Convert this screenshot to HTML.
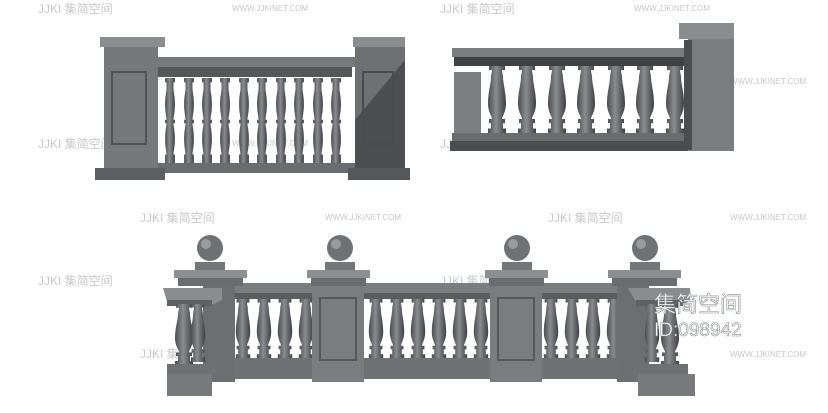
<!DOCTYPE html>
<html><head><meta charset="utf-8"><style>
html,body{margin:0;padding:0;background:#fff;width:828px;height:413px;overflow:hidden}
svg{display:block}
.wm{font-family:"Liberation Sans","Noto Sans CJK SC",sans-serif;fill:#c8c8c8}
</style></head><body>
<svg width="828" height="413" viewBox="0 0 828 413" xmlns="http://www.w3.org/2000/svg">
<defs>
<linearGradient id="bal" x1="0" x2="1" y1="0" y2="0">
<stop offset="0" stop-color="#4a4c4f"/><stop offset="0.45" stop-color="#8a8c8f"/><stop offset="1" stop-color="#3e4043"/>
</linearGradient>
<symbol id="b" viewBox="0 0 20 100" preserveAspectRatio="none">
<path d="M2 0H18V6H15C15 10 16 12 16 16C16 26 19 38 19 55C19 68 15 74 15 78H18V84H16V92H19V100H1V92H4V84H2V78H5C5 74 1 68 1 55C1 38 4 26 4 16C4 12 5 10 5 6H2Z" fill="url(#bal)"/>
</symbol>
<symbol id="b2" viewBox="0 0 20 100" preserveAspectRatio="none">
<path d="M3 0H17V5H15V12C15 16 17 20 17 30C17 40 15 44 15 48H17V52H15C15 56 17 60 17 70C17 80 15 84 15 88H17V100H3V88H5C5 84 3 80 3 70C3 60 5 56 5 52H3V48H5C5 44 3 40 3 30C3 20 5 16 5 12V5H3Z" fill="url(#bal)"/>
</symbol>
</defs>
<!-- watermarks -->
<g class="wm" font-size="12">
<text x="38" y="13">JJKI 集简空间</text><text x="232" y="11" font-size="8">WWW.JJKINET.COM</text>
<text x="440" y="13">JJKI 集简空间</text><text x="634" y="11" font-size="8">WWW.JJKINET.COM</text>
<text x="38" y="148">JJKI 集简空间</text><text x="232" y="146" font-size="8">WWW.JJKINET.COM</text>
<text x="440" y="148">JJKI 集简空间</text><text x="730" y="84" font-size="8">WWW.JJKINET.COM</text>
<text x="140" y="222">JJKI 集简空间</text><text x="325" y="220" font-size="8">WWW.JJKINET.COM</text>
<text x="548" y="222">JJKI 集简空间</text><text x="730" y="220" font-size="8">WWW.JJKINET.COM</text>
<text x="38" y="285">JJKI 集简空间</text><text x="440" y="285">JJKI 集简空间</text>
<text x="140" y="358">JJKI 集简空间</text><text x="730" y="357" font-size="8">WWW.JJKINET.COM</text>
</g>
<!-- TOP LEFT -->
<g>
<rect x="155" y="57" width="200" height="10" fill="#77797c"/>
<rect x="158" y="67" width="194" height="10" fill="#555759"/>
<g>
<use href="#b2" x="163" y="78" width="14" height="87"/><use href="#b2" x="182" y="78" width="14" height="87"/>
<use href="#b2" x="200" y="78" width="14" height="87"/><use href="#b2" x="218" y="78" width="14" height="87"/>
<use href="#b2" x="237" y="78" width="14" height="87"/><use href="#b2" x="255" y="78" width="14" height="87"/>
<use href="#b2" x="274" y="78" width="14" height="87"/><use href="#b2" x="292" y="78" width="14" height="87"/>
<use href="#b2" x="311" y="78" width="14" height="87"/><use href="#b2" x="329" y="78" width="14" height="87"/>
</g>
<rect x="155" y="163" width="200" height="10" fill="#6a6c6f"/>
<rect x="100" y="37" width="65" height="10" fill="#8a8c8e"/>
<rect x="104" y="47" width="54" height="122" fill="#76787b"/>
<rect x="112" y="72" width="34" height="72" fill="none" stroke="#505254" stroke-width="2"/>
<rect x="95" y="168" width="70" height="12" fill="#5c5e61"/>
<rect x="353" y="37" width="52" height="10" fill="#8a8c8e"/>
<rect x="355" y="47" width="50" height="122" fill="#6e7073"/>
<path d="M355 120L405 60V169H355Z" fill="#4c4e51"/>
<rect x="363" y="72" width="30" height="72" fill="none" stroke="#4a4c4e" stroke-width="2"/>
<rect x="348" y="168" width="62" height="12" fill="#55575a"/>
</g>
<!-- TOP RIGHT -->
<g>
<rect x="452" y="48" width="238" height="9" fill="#7a7c7f"/>
<rect x="454" y="57" width="236" height="9" fill="#3f4144"/>
<g>
<use href="#b" x="487" y="66" width="20" height="68"/><use href="#b" x="517" y="66" width="20" height="68"/>
<use href="#b" x="547" y="66" width="20" height="68"/><use href="#b" x="576" y="66" width="20" height="68"/>
<use href="#b" x="606" y="66" width="20" height="68"/><use href="#b" x="635" y="66" width="20" height="68"/>
<use href="#b" x="665" y="66" width="20" height="68"/>
</g>
<rect x="454" y="72" width="27" height="62" fill="#7c7e81"/>
<rect x="452" y="133" width="240" height="8" fill="#6a6c6f"/>
<rect x="450" y="141" width="242" height="10" fill="#4a4c4f"/>
<rect x="679" y="23" width="55" height="16" fill="#8a8c8e"/>
<rect x="688" y="39" width="46" height="112" fill="#7a7c7f"/>
<rect x="684" y="40" width="8" height="110" fill="#4a4c4f"/>
</g>
<!-- BOTTOM -->
<g>
<!-- rails -->
<rect x="225" y="283" width="400" height="14" fill="#7b7d80"/>
<rect x="225" y="293" width="400" height="6" fill="#5a5c5f"/>
<g>
<use href="#b" x="235" y="299" width="16" height="60"/><use href="#b" x="256" y="299" width="16" height="60"/>
<use href="#b" x="277" y="299" width="16" height="60"/><use href="#b" x="298" y="299" width="16" height="60"/>
<use href="#b" x="368" y="299" width="16" height="60"/><use href="#b" x="389" y="299" width="16" height="60"/>
<use href="#b" x="410" y="299" width="16" height="60"/><use href="#b" x="431" y="299" width="16" height="60"/>
<use href="#b" x="452" y="299" width="16" height="60"/><use href="#b" x="473" y="299" width="16" height="60"/>
<use href="#b" x="543" y="299" width="16" height="60"/><use href="#b" x="564" y="299" width="16" height="60"/>
<use href="#b" x="585" y="299" width="16" height="60"/><use href="#b" x="606" y="299" width="16" height="60"/>
</g>
<rect x="225" y="358" width="400" height="21" fill="#6f7174"/>
<!-- pillars -->
<g fill="#7a7c7f">
<rect x="203" y="285" width="32" height="97" fill="#6c6e71"/>
<rect x="312" y="285" width="52" height="97"/>
<rect x="490" y="285" width="52" height="97"/>
<rect x="617" y="285" width="32" height="97" fill="#6c6e71"/>
</g>
<rect x="320" y="298" width="36" height="62" fill="none" stroke="#55575a" stroke-width="2"/>
<rect x="498" y="298" width="36" height="62" fill="none" stroke="#55575a" stroke-width="2"/>
<g fill="#8c8e91">
<rect x="174" y="270" width="73" height="8"/><rect x="178" y="278" width="65" height="8" fill="#6a6c6f"/>
<rect x="307" y="270" width="63" height="8"/><rect x="311" y="278" width="55" height="8" fill="#6a6c6f"/>
<rect x="485" y="270" width="63" height="8"/><rect x="489" y="278" width="55" height="8" fill="#6a6c6f"/>
<rect x="608" y="270" width="73" height="8"/><rect x="612" y="278" width="65" height="8" fill="#6a6c6f"/>
<rect x="195" y="262" width="30" height="8" fill="#74767a"/><rect x="325" y="262" width="30" height="8" fill="#74767a"/>
<rect x="502" y="262" width="30" height="8" fill="#74767a"/><rect x="630" y="262" width="30" height="8" fill="#74767a"/>
</g>
<g fill="#6f7174">
<circle cx="210" cy="248" r="13"/><circle cx="340" cy="248" r="13"/>
<circle cx="517" cy="248" r="13"/><circle cx="645" cy="248" r="13"/>
</g>
<g fill="#999b9e"><circle cx="206" cy="244" r="5"/><circle cx="336" cy="244" r="5"/><circle cx="513" cy="244" r="5"/><circle cx="641" cy="244" r="5"/></g>
<!-- wings -->
<path d="M163 288H222V300L212 305H168Z" fill="#8a8c8f"/>
<rect x="167" y="300" width="45" height="6" fill="#5e6063"/>
<use href="#b" x="174" y="304" width="20" height="62"/><use href="#b" x="190" y="304" width="16" height="58"/>
<rect x="167" y="364" width="50" height="10" fill="#6e7073"/>
<rect x="167" y="374" width="45" height="22" fill="#77797c"/>
<path d="M628 288H690V300L684 305H638Z" fill="#8a8c8f"/>
<rect x="636" y="300" width="48" height="6" fill="#5e6063"/>
<use href="#b" x="644" y="304" width="16" height="58"/><use href="#b" x="660" y="304" width="20" height="62"/>
<rect x="633" y="364" width="55" height="10" fill="#6e7073"/>
<rect x="638" y="374" width="57" height="22" fill="#77797c"/>
</g>
<!-- overlay text -->
<g font-family="'Liberation Sans','Noto Sans CJK SC',sans-serif" fill="#ffffff" stroke="#8a8c8e" stroke-width="0.6">
<text x="654" y="312" font-size="22">集简空间</text>
<text x="654" y="336" font-size="19">ID:098942</text>
</g>
</svg>
</body></html>
